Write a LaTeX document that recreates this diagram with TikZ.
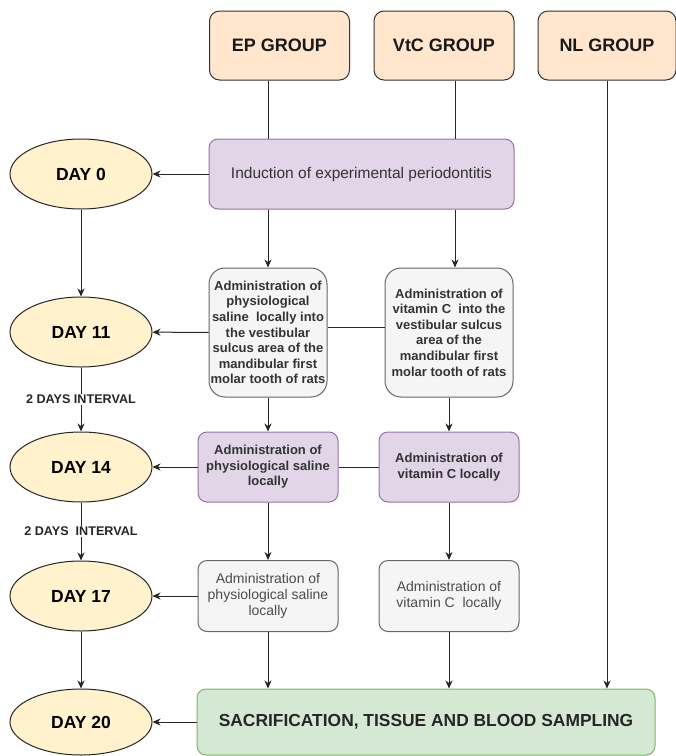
\documentclass[tikz,border=0pt]{standalone}
\usepackage{fontspec}
\setmainfont{Liberation Sans}
\usetikzlibrary{arrows.meta,shapes.geometric}
\definecolor{grpfill}{HTML}{FFE6CC}
\definecolor{dayfill}{HTML}{FFF2CC}
\definecolor{lilacfill}{HTML}{E1D5E7}
\definecolor{lilacdraw}{HTML}{9673A6}
\definecolor{greyfill}{HTML}{F5F5F5}
\definecolor{greydraw}{HTML}{666666}
\definecolor{endfill}{HTML}{D5E8D4}
\definecolor{enddraw}{HTML}{82B366}
\definecolor{txtgrey}{HTML}{333333}
\tikzset{
  >={Stealth[length=8pt,width=7pt,inset=2.5pt]},
  grpbox/.style={
    rectangle,
    rounded corners=10pt,
    draw=black!80, fill=grpfill, line width=1pt,
    minimum width=140pt,
    minimum height=69pt,
    inner sep=0pt,
    text=black!90,
    font=\bfseries\fontsize{18}{22}\selectfont},
  daynode/.style={
    ellipse,
    draw=black!85, fill=dayfill, line width=1pt,
    minimum width=142pt,
    minimum height=70pt,
    inner sep=0pt,
    font=\bfseries\fontsize{17.5}{21}\selectfont},
  lilacbox/.style={
    rectangle,
    rounded corners=9pt,
    draw=lilacdraw, fill=lilacfill, line width=1pt,
    minimum width=140pt,
    minimum height=70pt,
    inner sep=0pt, align=center, text=txtgrey,
    font=\bfseries\fontsize{13}{15.6}\selectfont},
  tallbox/.style={
    rectangle,
    rounded corners=16pt,
    draw=greydraw, fill=greyfill, line width=1pt,
    minimum height=129pt,
    inner sep=0pt, align=center, text=txtgrey,
    font=\bfseries\fontsize{13}{15.6}\selectfont},
  greybox/.style={
    rectangle,
    rounded corners=9pt,
    draw=greydraw, fill=greyfill, line width=1pt,
    minimum width=140pt,
    minimum height=71pt,
    inner sep=0pt, align=center, text=black!70,
    font=\fontsize{14}{16}\selectfont},
  endbox/.style={
    rectangle,
    rounded corners=9pt,
    draw=enddraw, fill=endfill, line width=1pt,
    minimum width=458pt,
    minimum height=66pt,
    inner sep=0pt, text=black!85,
    font=\bfseries\fontsize{17.4}{21}\selectfont},
  line/.style={draw, line width=1pt, black!85},
  gaplabel/.style={fill=white, inner sep=1.5pt, text=black!85,
    font=\bfseries\fontsize{12.6}{15}\selectfont},
}

\begin{document}
\begin{tikzpicture}[x=1pt,y=-1pt]
  \useasboundingbox (0,0) rectangle (676,756);

  % groups
  \node[grpbox] (EPgrp) at (279.5,45.5) {EP GROUP};
  \node[grpbox] (VCgrp) at (444,45.5) {VtC GROUP};
  \node[grpbox, minimum width=138pt] (NLgrp) at (607,45.5) {NL GROUP};
  \coordinate (colEP) at (268,0);
  \coordinate (colVC) at (455,0);

  % days
  \node[daynode] (day0) at (81,174) {DAY 0};
  \node[daynode] (day11) at (81,332) {DAY 11};
  \node[daynode] (day14) at (81,467) {DAY 14};
  \node[daynode] (day17) at (81,596) {DAY 17};
  \node[daynode, minimum height=66pt] (day20) at (81,722) {DAY 20};

  % procedures
  \node[lilacbox, minimum width=305pt, font=\fontsize{15.5}{18}\selectfont]
    (induc) at (361.5,174) {Induction of experimental periodontitis};
  \node[tallbox, minimum width=118pt] (salA) at (268,332.5)
    {Administration of\\physiological\\saline\ \ locally into\\the vestibular\\sulcus area of the\\mandibular first\\molar tooth of rats};
  \node[tallbox, minimum width=128pt] (vitA) at (449,332.5)
    {Administration of\\vitamin C\ \ into the\\vestibular sulcus\\area of the\\mandibular first\\molar tooth of rats};
  \node[lilacbox] (salB) at (268,467) {Administration of\\physiological saline\\locally};
  \node[lilacbox] (vitB) at (449,467) {Administration of\\vitamin C locally};
  \node[greybox] (salC) at (268,596) {Administration of\\physiological saline\\locally};
  \node[greybox] (vitC) at (449,596) {Administration of\\vitamin C\ \ locally};
  \node[endbox] (final) at (426,722) {SACRIFICATION, TISSUE AND BLOOD SAMPLING};

  % group lines
  \draw[line] (EPgrp.south -| colEP) -- (induc.north -| colEP);
  \draw[line] (VCgrp.south -| colVC) -- (induc.north -| colVC);
  \draw[line,->] (NLgrp.south) -- (final.north -| NLgrp.south);

  % down the columns
  \draw[line,->] (induc.south -| colEP) -- (salA.north);
  \draw[line,->] (induc.south -| colVC) -- (vitA.north -| colVC);
  \draw[line,->] (salA) -- (salB);
  \draw[line,->] (vitA) -- (vitB);
  \draw[line,->] (salB) -- (salC);
  \draw[line,->] (vitB) -- (vitC);
  \draw[line,->] (salC) -- (final.north -| salC);
  \draw[line,->] (vitC) -- (final.north -| vitC);

  % across to the days
  \draw[line,->] (induc) -- (day0);
  \draw[line] ([yshift=5pt]vitA.west) -- ([yshift=5pt]vitA.west -| salA.east);
  \draw[line,->] (salA) -- (day11);
  \draw[line] (vitB) -- (salB);
  \draw[line,->] (salB) -- (day14);
  \draw[line,->] (salC) -- (day17);
  \draw[line,->] (final) -- (day20);

  % day line
  \draw[line,->] (day0) -- (day11);
  \draw[line,->] (day11) -- (day14) node[midway, gaplabel] {2 DAYS INTERVAL};
  \draw[line,->] (day14) -- (day17) node[midway, gaplabel] {2 DAYS\ \ INTERVAL};
  \draw[line,->] (day17) -- (day20);
\end{tikzpicture}
\end{document}
